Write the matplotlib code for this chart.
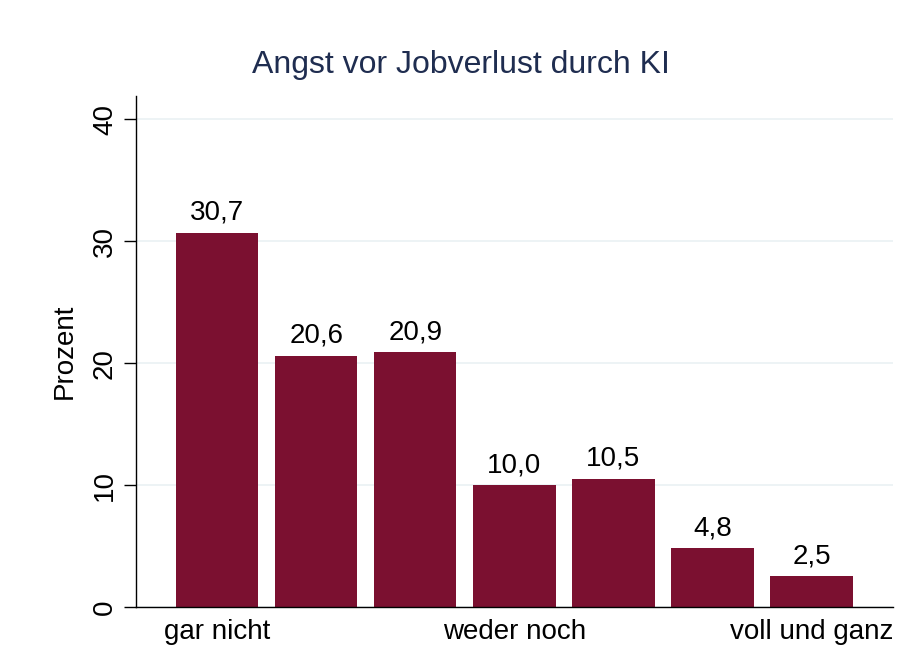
import matplotlib
matplotlib.use('Agg')
import matplotlib.pyplot as plt

plt.rcParams['font.family'] = ['Liberation Sans', 'DejaVu Sans']

# Antwortkategorien 1..7, nur Endpunkte und Mitte beschriftet
positions = [1, 2, 3, 4, 5, 6, 7]
percent = [30.7, 20.6, 20.9, 10.0, 10.5, 4.8, 2.5]
tick_pos = [1, 4, 7]
tick_labels = ['gar nicht', 'weder noch', 'voll und ganz']
y_ticks = [0, 10, 20, 30, 40]

BAR_COLOUR = '#7B1030'
GRID_COLOUR = '#EAF1F3'
TITLE_COLOUR = '#1F2D50'

fig = plt.figure(figsize=(9.02, 6.46), dpi=100)
ax = fig.add_axes([0.1508, 0.0604, 0.839, 0.791])

ax.bar(positions, percent, width=0.83, color=BAR_COLOUR, zorder=2)
for x, v in zip(positions, percent):
    ax.annotate(f'{v:.1f}'.replace('.', ','), (x, v), xytext=(0, 5),
                textcoords='offset points', ha='center', va='bottom',
                fontsize=20)

ax.set_xlim(0.18, 7.82)
ax.set_ylim(0, 41.9)
ax.set_yticks(y_ticks)
ax.set_yticklabels([str(t) for t in y_ticks], rotation=90, va='center',
                   fontsize=20)
ax.set_xticks(tick_pos)
ax.set_xticklabels(tick_labels, fontsize=20)
ax.tick_params(axis='x', length=0, pad=9)
ax.tick_params(axis='y', length=9, width=1, pad=4)

ax.grid(axis='y', color=GRID_COLOUR, linewidth=1.2, zorder=0)
ax.set_axisbelow(True)
for side in ('top', 'right'):
    ax.spines[side].set_visible(False)
ax.spines['left'].set_linewidth(1)
ax.spines['bottom'].set_linewidth(1)

ax.set_ylabel('Prozent', fontsize=20, labelpad=10)
fig.text(0.511, 0.899, 'Angst vor Jobverlust durch KI',
         ha='center', va='center', fontsize=23, color=TITLE_COLOUR)

fig.savefig('out.png', dpi=100, facecolor='white')
